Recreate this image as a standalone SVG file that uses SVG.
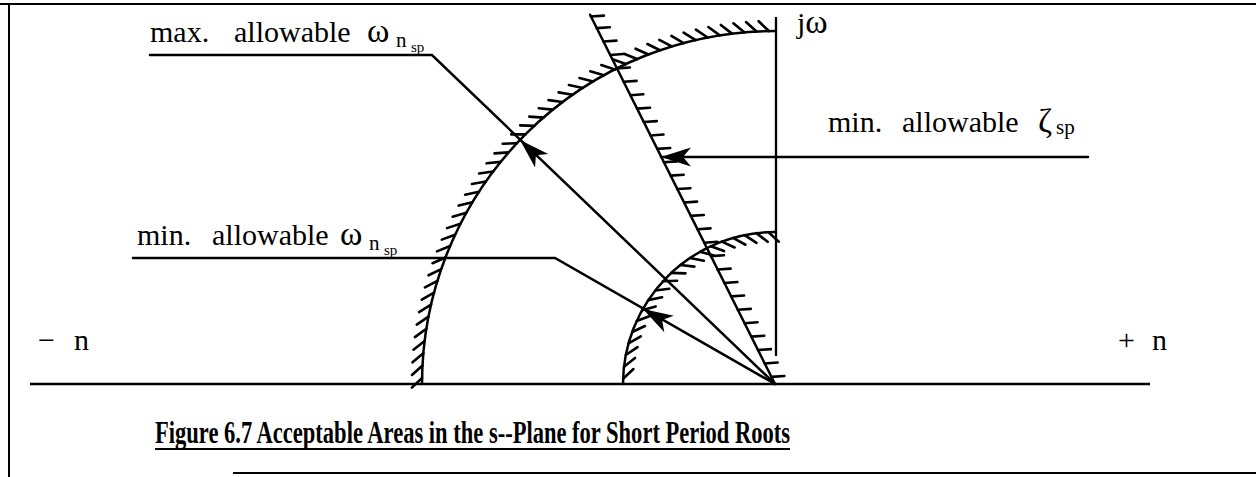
<svg xmlns="http://www.w3.org/2000/svg" xmlns:xlink="http://www.w3.org/1999/xlink" width="1256" height="477" viewBox="0 0 1256 477">
<style>
.ln{fill:none;stroke:#000;stroke-width:2.5;stroke-linecap:round}
.ax{fill:none;stroke:#000;stroke-width:2.3}
.tk{fill:none;stroke:#000;stroke-width:2.6;stroke-linecap:round}
.bd{fill:none;stroke:#000;stroke-width:2}
.lb{font-family:"Liberation Serif","Times New Roman",serif;font-size:30px;fill:#000}
.om{font-size:34px}
.sb{font-size:21px}
.ss{font-size:15px}
.cap{font-family:"Liberation Serif","Times New Roman",serif;font-size:31px;font-weight:bold;fill:#000}
</style>
<defs>
<path id="tb" class="tk" d="M422,384 l-10,10"/>
<path id="ts" class="tk" d="M623,384 l10,-10"/>
<path id="td" class="tk" d="M0,0 l-5,12"/>
<path id="ah" d="M0,0 L-30,-9.5 L-22,0 L-30,9.5 Z" fill="#000"/>
</defs>
<g id="border">
<path class="bd" d="M0,4 H1256 M9,4 V477 M233,473 H1256"/>
</g>
<g id="axes">
<path class="ax" d="M30,384 H1150"/>
<path class="ax" d="M776,17 V356"/>
<text class="lb" x="797" y="33">j<tspan class="om">ω</tspan></text>
<text class="lb" y="350"><tspan x="38">−</tspan><tspan x="74">n</tspan></text>
<text class="lb" y="350"><tspan x="1118">+</tspan><tspan x="1152">n</tspan></text>
</g>
<g id="max-arc">
<path class="ln" d="M422,384 A353,353 0 0 1 775,31"/>
<use xlink:href="#tb" transform="rotate(1 775 384)"/><use xlink:href="#tb" transform="rotate(3 775 384)"/><use xlink:href="#tb" transform="rotate(5 775 384)"/><use xlink:href="#tb" transform="rotate(7 775 384)"/><use xlink:href="#tb" transform="rotate(9 775 384)"/><use xlink:href="#tb" transform="rotate(11 775 384)"/><use xlink:href="#tb" transform="rotate(13 775 384)"/><use xlink:href="#tb" transform="rotate(15 775 384)"/><use xlink:href="#tb" transform="rotate(17 775 384)"/><use xlink:href="#tb" transform="rotate(19 775 384)"/><use xlink:href="#tb" transform="rotate(21 775 384)"/><use xlink:href="#tb" transform="rotate(23 775 384)"/><use xlink:href="#tb" transform="rotate(25 775 384)"/><use xlink:href="#tb" transform="rotate(27 775 384)"/><use xlink:href="#tb" transform="rotate(29 775 384)"/><use xlink:href="#tb" transform="rotate(31 775 384)"/><use xlink:href="#tb" transform="rotate(33 775 384)"/><use xlink:href="#tb" transform="rotate(35 775 384)"/><use xlink:href="#tb" transform="rotate(37 775 384)"/><use xlink:href="#tb" transform="rotate(39 775 384)"/><use xlink:href="#tb" transform="rotate(41 775 384)"/><use xlink:href="#tb" transform="rotate(43 775 384)"/><use xlink:href="#tb" transform="rotate(45 775 384)"/><use xlink:href="#tb" transform="rotate(47 775 384)"/><use xlink:href="#tb" transform="rotate(49 775 384)"/><use xlink:href="#tb" transform="rotate(51 775 384)"/><use xlink:href="#tb" transform="rotate(53 775 384)"/><use xlink:href="#tb" transform="rotate(55 775 384)"/><use xlink:href="#tb" transform="rotate(57 775 384)"/><use xlink:href="#tb" transform="rotate(59 775 384)"/><use xlink:href="#tb" transform="rotate(61 775 384)"/><use xlink:href="#tb" transform="rotate(63 775 384)"/><use xlink:href="#tb" transform="rotate(65 775 384)"/><use xlink:href="#tb" transform="rotate(67 775 384)"/><use xlink:href="#tb" transform="rotate(69 775 384)"/><use xlink:href="#tb" transform="rotate(71 775 384)"/><use xlink:href="#tb" transform="rotate(73 775 384)"/><use xlink:href="#tb" transform="rotate(75 775 384)"/><use xlink:href="#tb" transform="rotate(77 775 384)"/><use xlink:href="#tb" transform="rotate(79 775 384)"/><use xlink:href="#tb" transform="rotate(81 775 384)"/><use xlink:href="#tb" transform="rotate(83 775 384)"/><use xlink:href="#tb" transform="rotate(85 775 384)"/><use xlink:href="#tb" transform="rotate(87 775 384)"/><use xlink:href="#tb" transform="rotate(89 775 384)"/>
</g>
<g id="min-arc">
<path class="ln" d="M623,384 A152,152 0 0 1 775,232"/>
<use xlink:href="#ts" transform="rotate(2 775 384)"/><use xlink:href="#ts" transform="rotate(6.5 775 384)"/><use xlink:href="#ts" transform="rotate(11 775 384)"/><use xlink:href="#ts" transform="rotate(15.5 775 384)"/><use xlink:href="#ts" transform="rotate(20 775 384)"/><use xlink:href="#ts" transform="rotate(24.5 775 384)"/><use xlink:href="#ts" transform="rotate(29 775 384)"/><use xlink:href="#ts" transform="rotate(33.5 775 384)"/><use xlink:href="#ts" transform="rotate(38 775 384)"/><use xlink:href="#ts" transform="rotate(42.5 775 384)"/><use xlink:href="#ts" transform="rotate(47 775 384)"/><use xlink:href="#ts" transform="rotate(51.5 775 384)"/><use xlink:href="#ts" transform="rotate(56 775 384)"/><use xlink:href="#ts" transform="rotate(60.5 775 384)"/><use xlink:href="#ts" transform="rotate(65 775 384)"/><use xlink:href="#ts" transform="rotate(69.5 775 384)"/><use xlink:href="#ts" transform="rotate(74 775 384)"/><use xlink:href="#ts" transform="rotate(78.5 775 384)"/><use xlink:href="#ts" transform="rotate(83 775 384)"/><use xlink:href="#ts" transform="rotate(87.5 775 384)"/>
</g>
<g id="damping-line" transform="translate(775,384) rotate(-116.6)">
<path class="ln" d="M0,0 H413"/>
<use xlink:href="#td" x="8"/><use xlink:href="#td" x="23"/><use xlink:href="#td" x="38"/><use xlink:href="#td" x="53"/><use xlink:href="#td" x="68"/><use xlink:href="#td" x="83"/><use xlink:href="#td" x="98"/><use xlink:href="#td" x="113"/><use xlink:href="#td" x="128"/><use xlink:href="#td" x="143"/><use xlink:href="#td" x="158"/><use xlink:href="#td" x="173"/><use xlink:href="#td" x="188"/><use xlink:href="#td" x="203"/><use xlink:href="#td" x="218"/><use xlink:href="#td" x="233"/><use xlink:href="#td" x="248"/><use xlink:href="#td" x="263"/><use xlink:href="#td" x="278"/><use xlink:href="#td" x="293"/><use xlink:href="#td" x="308"/><use xlink:href="#td" x="323"/><use xlink:href="#td" x="338"/><use xlink:href="#td" x="353"/><use xlink:href="#td" x="368"/><use xlink:href="#td" x="383"/><use xlink:href="#td" x="398"/><use xlink:href="#td" x="411"/>
</g>
<g id="connectors">
<path class="ln" d="M150,55 H432 L775,384"/>
<use xlink:href="#ah" transform="translate(520,140) rotate(-136.2)"/>
<path class="ln" d="M133,258 H555 L775,384"/>
<use xlink:href="#ah" transform="translate(643,309) rotate(-150.2)"/>
<path class="ln" d="M661,157 H1088"/>
<use xlink:href="#ah" transform="translate(661,157) rotate(180)"/>
</g>
<g id="label-max">
<text class="lb" y="42"><tspan x="150">max.</tspan><tspan x="234">allowable</tspan><tspan class="om" x="367">ω</tspan><tspan class="sb" x="396" y="47">n</tspan><tspan class="ss" x="411" y="52">sp</tspan></text>
</g>
<g id="label-min-omega">
<text class="lb" y="245"><tspan x="137">min.</tspan><tspan x="212">allowable</tspan><tspan class="om" x="340">ω</tspan><tspan class="sb" x="369" y="250">n</tspan><tspan class="ss" x="384" y="255">sp</tspan></text>
</g>
<g id="label-min-zeta">
<text class="lb" y="132"><tspan x="828">min.</tspan><tspan x="902">allowable</tspan><tspan class="om" x="1038">ζ</tspan><tspan class="sb" x="1056" y="134">sp</tspan></text>
</g>
<g id="caption">
<text class="cap" x="155" y="443" textLength="635" lengthAdjust="spacingAndGlyphs">Figure 6.7 Acceptable Areas in the s--Plane for Short Period Roots</text>
<path class="bd" d="M155,449 H790"/>
</g>
</svg>
